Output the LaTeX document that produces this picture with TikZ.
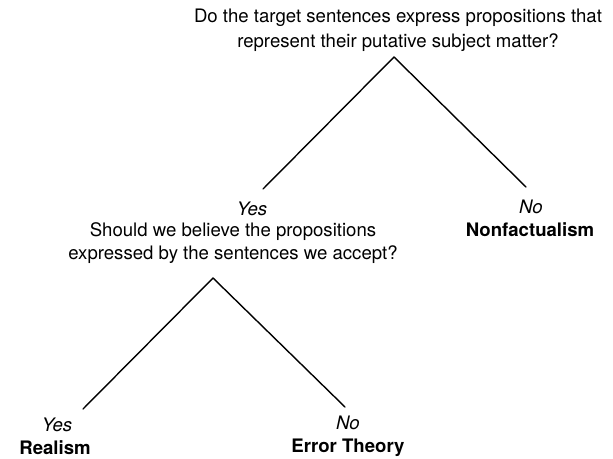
\documentclass[tikz,border=0pt]{standalone}
\usepackage{fontspec}
\setmainfont{TeX Gyre Heros}
\usetikzlibrary{positioning}

\tikzset{
	question/.style={align=center, inner sep=0pt, font=\fontsize{18.6}{24.5}\selectfont},
	subquestion/.style={question, font=\fontsize{18.6}{23}\selectfont},
	answer/.style={inner sep=0pt, font=\fontsize{18.6}{21}\selectfont\itshape},
	verdict/.style={inner sep=0pt, font=\fontsize{18.6}{21}\selectfont\bfseries},
	leg/.style={line width=1.4pt, line cap=round, line join=miter}
}

\begin{document}
\begin{tikzpicture}[x=1pt, y=-1pt]
		%%%%% START %%%%%
		\useasboundingbox (0, 0) rectangle (613, 458);
		
		\node[question] (q1) at (398, 30) {Do the target sentences express propositions that\\represent their putative subject matter?};
		\coordinate (a1) at (394, 57);
		\coordinate (l1) at (263, 189);
		\coordinate (r1) at (526, 187);
		\draw[leg] (l1) -- (a1) -- (r1);
		
		\node[answer] (yes1) at (252, 209) {Yes};
		\node[subquestion] (q2) at (233, 243.5) {Should we believe the propositions\\expressed by the sentences we accept?};
		\node[answer] (no1) at (531, 207) {No};
		\node[verdict] (nonfact) at (530, 230) {Nonfactualism};
		
		\coordinate (a2) at (213, 278);
		\coordinate (l2) at (83, 409);
		\coordinate (r2) at (345, 407);
		\draw[leg] (l2) -- (a2) -- (r2);
		
		\node[answer] (yes2) at (57, 425) {Yes};
		\node[verdict] (realism) at (55, 448) {Realism};
		\node[answer] (no2) at (348, 423) {No};
		\node[verdict] (errth) at (348, 448) {Error Theory};
		
		%%%%% END %%%%%
	\end{tikzpicture}
\end{document}
